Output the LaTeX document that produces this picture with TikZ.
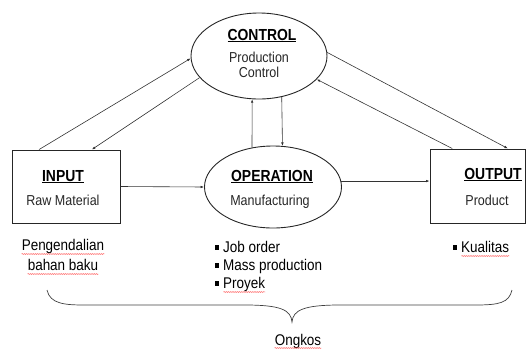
\documentclass[tikz,border=0pt]{standalone}
\usepackage{fontspec}
\setmainfont[FakeStretch=0.87]{Liberation Sans}
\usepackage{tikz}
\usetikzlibrary{calc, shapes.geometric, arrows.meta, decorations.pathmorphing}

\tikzset{
	conn/.style = {-{Latex[length=3.5pt, width=2.6pt]}, line width=0.6pt, black!80},
	blockbox/.style = {draw, line width=1pt, black!85, minimum width=108pt, minimum height=73pt, inner sep=0pt},
	blockell/.style = {ellipse, draw, line width=0.9pt, black!85, minimum width=136pt, minimum height=86pt, inner sep=0pt},
	title/.style = {anchor=base, inner sep=0pt, font=\fontsize{16}{16}\selectfont\bfseries},
	sub/.style = {anchor=base, inner sep=0pt, font=\fontsize{14.4}{14.4}\selectfont, black!85},
	note/.style = {anchor=base, inner sep=0pt, font=\fontsize{15.5}{15.5}\selectfont},
	spell/.style = {red!75, line width=0.45pt, decorate, decoration={snake, amplitude=0.45pt, segment length=2.2pt}}
}

\newcommand{\blt}{\rule[2.2pt]{4pt}{4.4pt}\hspace{4pt}}

\begin{document}
\begin{tikzpicture}[x=1pt, y=-1pt]
		%page
		\useasboundingbox (0,0) rectangle (528,349);
		
		%blocks
		\node [blockell] (control) at (259,56) {};
		\node [blockell, minimum width=137pt, minimum height=82pt] (operation) at (273,187) {};
		\node [blockbox] (input) at (66,186.5) {};
		\node [blockbox, minimum width=95pt, minimum height=74pt] (output) at (477.5,186) {};
		
		%labels in the blocks
		\node [title] (controlT) at (262,40) {\underline{CONTROL}};
		\node [sub] (controlS1) at (259,62) {Production};
		\node [sub] (controlS2) at (259,77) {Control};
		\node [title] (inputT) at (63,181) {\underline{INPUT}};
		\node [sub] (inputS) at (63,205) {Raw Material};
		\node [title] (operationT) at (272,181) {\underline{OPERATION}};
		\node [sub] (operationS) at (270,205) {Manufacturing};
		\node [title] (outputT) at (493,179) {\underline{OUTPUT}};
		\node [sub] (outputS) at (487,205) {Product};
		
		%flow
		\draw [conn] (input.east) -- (operation.west);
		\draw [conn] (operation.5) -- (operation.5 -| output.west);
		\draw [conn] (input.126) -- (control.182);
		\draw [conn] (control.200) -- (input.55);
		\draw [conn] (control.3) -- (output.51);
		\draw [conn] (output.124) -- (control.338);
		\draw [conn] (operation.118) -- (control.261);
		\draw [conn] (control.299) -- (operation.77.5);
		
		%notes below
		\node [note] (bahan1) at (63,250) {Pengendalian};
		\node [note] (bahan2) at (63,270) {bahan baku};
		\node [note, anchor=base west] (job) at (215,252) {\blt Job order};
		\node [note, anchor=base west] (mass) at (215,270) {\blt Mass production};
		\node [note, anchor=base west] (proyek) at (215,288) {\blt Proyek};
		\node [note, anchor=base west] (kualitas) at (453,252) {\blt Kualitas};
		\node [note] (ongkos) at (298,345) {Ongkos};
		
		%brace
		\draw [line width=0.7pt, black!75] (47,290) .. controls (50,304) and (65,305) .. (85,305) -- (245,305) .. controls (281,305) and (291,310) .. (292,322) .. controls (293,310) and (304,305) .. (340,305) -- (475,305) .. controls (499,305) and (509,303) .. (512,290);
		
		%spelling marks
		\draw [spell] ($(bahan1.base west)+(0,4)$) -- ($(bahan1.base east)+(0,4)$);
		\draw [spell] ($(bahan2.base west)+(0,4)$) -- ($(bahan2.base east)+(0,4)$);
		\draw [spell] ($(proyek.base west)+(8.5,4)$) -- ($(proyek.base east)+(0,4)$);
		\draw [spell] ($(kualitas.base west)+(8.5,4)$) -- ($(kualitas.base east)+(0,4)$);
		\draw [spell] ($(ongkos.base west)+(0,3)$) -- ($(ongkos.base east)+(0,3)$);
	\end{tikzpicture}
\end{document}
